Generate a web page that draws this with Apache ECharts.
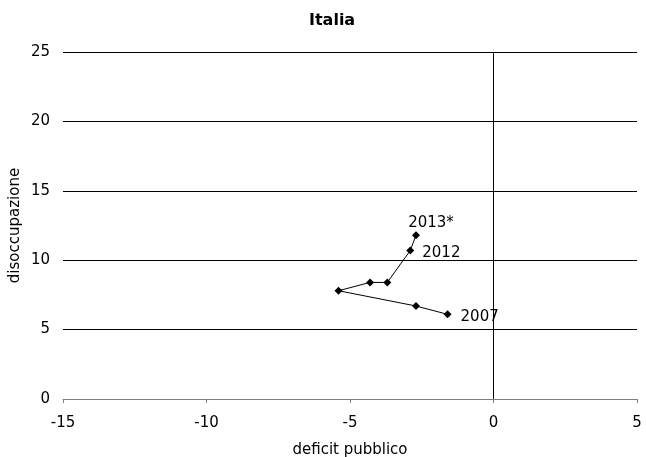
<!DOCTYPE html>
<html><head><meta charset="utf-8">
<script src="https://cdn.jsdelivr.net/npm/echarts@6/dist/echarts.min.js"></script>
<style>html,body{margin:0;padding:0;background:#fff}#c{width:646px;height:457px}</style>
</head><body><div id="c"></div>
<script>
const years = ['2007','2008','2009','2010','2011','2012','2013*'];
const deficit = [-1.6, -2.7, -5.4, -4.3, -3.7, -2.9, -2.7];
const unemployment = [6.1, 6.7, 7.8, 8.4, 8.4, 10.7, 11.8];
const shownLabels = {'2007': {position: 'right', offset: [4, 3]}, '2012': {position: 'right', offset: [3, 3]}, '2013*': {position: 'top', offset: [15, 4]}};

const font = 'DejaVu Sans, Verdana, sans-serif';
const fs = 15;
const data = years.map((y, i) => {
  const d = {value: [deficit[i], unemployment[i]], name: y};
  if (shownLabels[y]) {
    d.label = Object.assign({show: true, formatter: y, color: '#000', fontFamily: font, fontSize: fs}, shownLabels[y]);
  }
  return d;
});

const chart = echarts.init(document.getElementById('c'));
chart.setOption({
  animation: false,
  backgroundColor: '#fff',
  title: {text: 'Italia', left: 304, top: 8, textStyle: {fontFamily: font, fontSize: 16, fontWeight: 'bold', color: '#000'}},
  grid: {left: 63, right: 9, top: 52, bottom: 58, outerBoundsMode: 'none', containLabel: false},
  xAxis: {
    type: 'value', min: -15, max: 5, interval: 5,
    name: 'deficit pubblico', nameLocation: 'middle', nameGap: 44, nameMoveOverlap: false,
    nameTextStyle: {fontFamily: font, fontSize: fs, color: '#000'},
    axisLine: {show: true, onZero: false, lineStyle: {color: '#808080', width: 1}},
    axisTick: {show: true, inside: false, length: 4, lineStyle: {color: '#808080'}},
    axisLabel: {fontFamily: font, fontSize: fs, color: '#000', margin: 17},
    splitLine: {show: false}
  },
  yAxis: {
    type: 'value', min: 0, max: 25, interval: 5,
    name: 'disoccupazione', nameLocation: 'middle', nameGap: 40, nameMoveOverlap: false,
    nameTextStyle: {fontFamily: font, fontSize: fs, color: '#000'},
    axisLine: {show: false},
    axisTick: {show: false},
    axisLabel: {fontFamily: font, fontSize: fs, color: '#000', margin: 13},
    splitLine: {show: true, lineStyle: {color: '#000', width: 1}}
  },
  series: [{
    type: 'line',
    data: data,
    symbol: 'diamond',
    symbolSize: 8,
    itemStyle: {color: '#000'},
    lineStyle: {color: '#000', width: 1},
    label: {show: false},
    markLine: {
      silent: true, symbol: 'none', label: {show: false},
      lineStyle: {color: '#000', width: 1, type: 'solid'},
      data: [{xAxis: 0}]
    }
  }]
});
</script></body></html>
